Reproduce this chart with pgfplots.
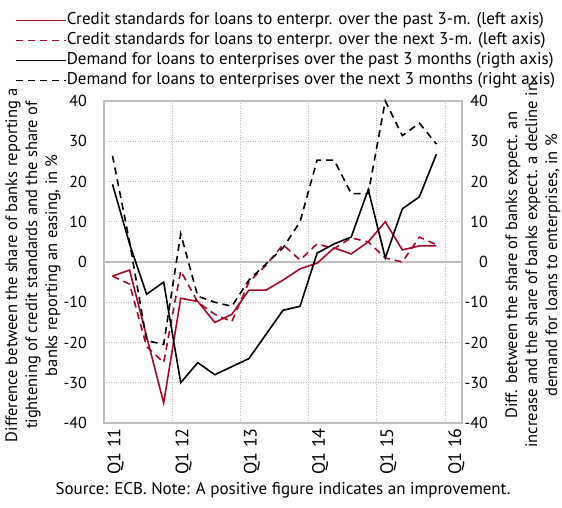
\documentclass[border=0pt]{standalone}
\usepackage{fontspec}
\setmainfont{PT Sans}
\usepackage{pgfplots}
\pgfplotsset{compat=1.18}
\definecolor{ecbred}{RGB}{168,8,38}
\definecolor{gridgray}{RGB}{190,190,190}
\pgfplotstableread{
x rs rd bs bd
0.5 -3.5 -3.5 19.3 26.4
1.5 -2 -5.5 4.5 5
2.5 -18.5 -21 -8 -19.5
3.5 -35 -25 -5 -20.5
4.5 -9 -2.2 -30 7
5.5 -9.8 -10 -25 -8.5
6.5 -15 -13 -28 -10
7.5 -13 -14.8 -26 -11
8.5 -7 -5 -24 -4.5
9.5 -7 -0.8 -18 -0.5
10.5 -4.5 4.3 -12 3.5
11.5 -1.7 0.5 -11 10
12.5 -0.3 4.5 2.2 25.3
13.5 3.5 3.3 4.5 25.3
14.5 2 6 6.2 17
15.5 5 5 18 17
16.5 10 1 1 40
17.5 3 0 13.2 31.4
18.5 4 6.2 16.2 34.5
19.5 4 4.3 26.8 29.3
}\data
\begin{document}
\begin{tikzpicture}
\begin{axis}[
  name=ax,
  scale only axis, width=358pt, height=322pt,
  xmin=0, xmax=21, ymin=-40, ymax=40,
  axis line style={gridgray, line width=1.5pt},
  xtick={0,4,8,12,16,20}, xticklabels={},
  extra x ticks={0.5,4.5,8.5,12.5,16.5,20.5},
  extra x tick labels={Q1 11,Q1 12,Q1 13,Q1 14,Q1 15,Q1 16},
  extra x tick style={grid=none, xticklabel style={rotate=90, anchor=east, inner sep=0pt, xshift=-5pt, yshift=-3pt, font=\fontsize{18}{20}\selectfont}},
  ytick={-40,-30,...,40},
  major tick length=0pt,
  xmajorgrids, ymajorgrids,
  major grid style={gridgray, dotted, line width=0.9pt},
  extra y ticks={0}, extra y tick labels={},
  extra y tick style={grid=major, major grid style={gridgray, solid, line width=1.4pt}},
  yticklabel style={anchor=east, inner sep=0pt, xshift=-17pt, font=\fontsize{16}{19}\selectfont},
  /pgf/number format/assume math mode=true,
  ylabel={Difference between the share of banks reporting a\\tightening of credit standards and the share of\\banks reporting an easing, in \%},
  ylabel style={align=center, at={(axis description cs:-0.198,0.49)}, anchor=center, font=\fontsize{16.5}{20}\selectfont},
  xlabel={Source: ECB. Note: A positive figure indicates an improvement.},
  xlabel style={at={(axis description cs:0.5,-0.209)}, anchor=center, font=\fontsize{17}{20}\selectfont},
  legend image code/.code={\draw[#1] (0pt,0pt) -- (50pt,0pt);},
  legend cell align=left,
  legend style={at={(axis description cs:-0.2486,1.276)}, anchor=north west, draw=none, fill=none, inner sep=0pt, row sep=4pt, font=\fontsize{17}{20}\selectfont, nodes={inner sep=0pt, text height=12pt, text depth=4pt}},
  /tikz/every even column/.append style={column sep=2pt},
  clip=false,
]
\addplot[ecbred, line width=1.6pt] table[x=x,y=rs]{\data};
\addlegendentry{Credit standards for loans to enterpr. over the past 3-m. (left axis)}
\addplot[ecbred, line width=1.6pt, dash pattern=on 7pt off 5pt] table[x=x,y=rd]{\data};
\addlegendentry{Credit standards for loans to enterpr. over the next 3-m. (left axis)}
\addplot[black, line width=1.6pt] table[x=x,y=bs]{\data};
\addlegendentry{Demand for loans to enterprises over the past 3 months (rigth axis)}
\addplot[black, line width=1.6pt, dash pattern=on 7pt off 5pt] table[x=x,y=bd]{\data};
\addlegendentry{Demand for loans to enterprises over the next 3 months (right axis)}
\end{axis}
\begin{axis}[
  scale only axis, width=358pt, height=322pt,
  xmin=0, xmax=21, ymin=-40, ymax=40,
  axis x line=none, axis y line*=right,
  axis line style={draw=none},
  ytick={-40,-30,...,40}, major tick length=0pt,
  yticklabel style={anchor=east, inner sep=0pt, xshift=26pt, font=\fontsize{16}{19}\selectfont},
  /pgf/number format/assume math mode=true,
  ylabel={Diff. between the share of banks expect. an\\increase and the share of banks expect. a decline in\\demand for loans to enterprises, in \%},
  ylabel style={align=center, at={(axis description cs:1.198,0.49)}, anchor=center, rotate=0, font=\fontsize{16.5}{20}\selectfont},
]
\addplot[draw=none] coordinates {(0,0)};
\end{axis}
\pgfresetboundingbox
\path[use as bounding box] (ax.south west) ++(-104pt,-84pt) rectangle ++(562pt,507pt);
\end{tikzpicture}
\end{document}
